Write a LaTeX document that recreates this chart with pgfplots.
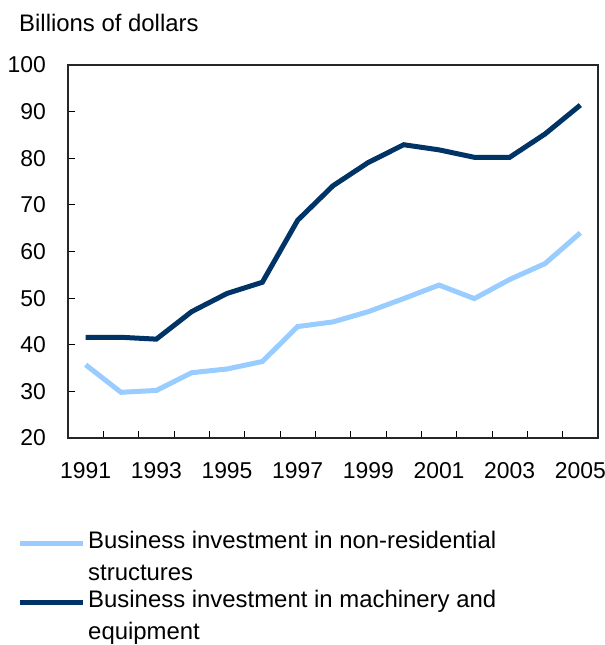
\documentclass[border=0pt]{standalone}
\usepackage{fontspec}
\setmainfont{Liberation Sans}
\usepackage{pgfplots}
\pgfplotsset{compat=1.18}
\definecolor{lightline}{RGB}{153,204,255}
\definecolor{darkline}{RGB}{0,51,102}
\begin{document}
\fontsize{24}{30}\selectfont
\begin{tikzpicture}[x=1bp,y=1bp]
\useasboundingbox (0,0) rectangle (605,645);
\node[anchor=base west, inner sep=0pt] at (19,613) {Billions of dollars};
\begin{axis}[
  at={(68bp,207bp)}, anchor=south west,
  scale only axis, width=530bp, height=373bp,
  xmin=1990.5, xmax=2005.5, ymin=20, ymax=100,
  ytick={20,30,40,50,60,70,80,90,100},
  xtick={1991.5,1992.5,1993.5,1994.5,1995.5,1996.5,1997.5,1998.5,1999.5,2000.5,2001.5,2002.5,2003.5,2004.5},
  xticklabels={},
  extra x ticks={1991,1993,1995,1997,1999,2001,2003,2005},
  extra x tick labels={1991,1993,1995,1997,1999,2001,2003,2005},
  extra x tick style={major tick length=0pt},
  tick pos=left, tick align=inside,
  major tick length=7bp,
  tick style={black, line width=1bp},
  axis line style={black!85, line width=1.2bp},
  /pgf/number format/assume math mode=true,
  ticklabel style={font=\fontsize{23}{23}\selectfont, inner sep=0pt},
  yticklabel style={anchor=east, xshift=-22bp},
  xticklabel style={anchor=north, yshift=-24bp},
  legend cell align=left,
  legend image code/.code={\draw[#1] (0bp,14bp) -- (63bp,14bp);},
  legend style={at={(axis description cs:-0.0962,-0.2493)}, anchor=north west,
    draw=none, fill=none, inner sep=0pt, row sep=6bp, column sep=3bp,
    nodes={inner sep=0pt, align=left, font=\fontsize{24}{32}\selectfont}},
]
\addplot[lightline, line width=5bp] coordinates {
(1991,35.7) (1992,29.8) (1993,30.2) (1994,34.0) (1995,34.8) (1996,36.4) (1997,43.9)
(1998,44.9) (1999,47.1) (2000,49.9) (2001,52.8) (2002,49.9) (2003,54.0) (2004,57.4) (2005,64.0)};
\addlegendentry{Business investment in non-residential\\structures}
\addplot[darkline, line width=5bp] coordinates {
(1991,41.6) (1992,41.6) (1993,41.2) (1994,47.1) (1995,51.0) (1996,53.4) (1997,66.7)
(1998,74.1) (1999,79.1) (2000,82.9) (2001,81.8) (2002,80.2) (2003,80.2) (2004,85.2) (2005,91.4)};
\addlegendentry{Business investment in machinery and\\equipment}
\end{axis}
\end{tikzpicture}
\end{document}
